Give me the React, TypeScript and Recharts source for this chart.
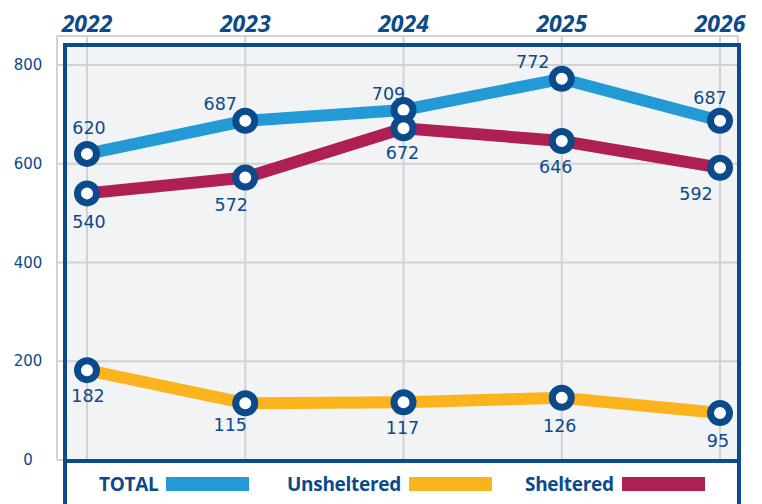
import { LineChart, Line, XAxis, YAxis, CartesianGrid, LabelList } from 'recharts';

const years = ['2022', '2023', '2024', '2025', '2026'];
const total = [620, 687, 709, 772, 687];
const unsheltered = [182, 115, 117, 126, 95];
const sheltered = [540, 572, 672, 646, 592];
const yTicks = [0, 200, 400, 600, 800];

// label nudges (dx, dy) per point
const totalLabelShift = [[2, -26], [-25, -17], [-15, -16], [-29, -17], [-10, -23]];
const unshelteredLabelShift = [[1, 26], [-15, 22], [-1, 26], [-2, 28], [-2, 28]];
const shelteredLabelShift = [[2, 29], [-14, 27], [-1, 25], [-6, 26], [-24, 26]];

const NAVY = '#0b4a8b';
const BLUE = '#239ad6';
const GOLD = '#fbb41d';
const WINE = '#ae1f53';
const GRID = '#d2d2d2';

const data = years.map((year, i) => ({
  year,
  total: total[i],
  unsheltered: unsheltered[i],
  sheltered: sheltered[i],
}));

const makeLabel = (shift: number[][]) => (props: any) => {
  const { x, y, value, index } = props;
  const [dx, dy] = shift[index] || [0, 0];
  return (
    <text
      x={x + dx}
      y={y + dy}
      textAnchor="middle"
      dominantBaseline="central"
      fill={NAVY}
      fontSize={17.5}
      fontFamily="DejaVu Sans"
    >
      {value}
    </text>
  );
};

const YearTick = (props: any) => {
  const { x, y, payload } = props;
  return (
    <text
      x={x}
      y={y}
      textAnchor="middle"
      fill={NAVY}
      fontSize={23}
      fontWeight={700}
      fontStyle="italic"
      fontFamily="Open Sans"
    >
      {payload.value}
    </text>
  );
};

const ValueTick = (props: any) => {
  const { x, y, payload } = props;
  return (
    <text
      x={x}
      y={y}
      textAnchor="middle"
      dominantBaseline="central"
      fill={NAVY}
      fontSize={15}
      fontFamily="DejaVu Sans"
    >
      {payload.value}
    </text>
  );
};

const dotStyle = { r: 9.5, fill: '#ffffff', stroke: NAVY, strokeWidth: 7 };

const legendItems = [
  { name: 'TOTAL', color: BLUE, left: 99 },
  { name: 'Unsheltered', color: GOLD, left: 287 },
  { name: 'Sheltered', color: WINE, left: 525 },
];

export default function App() {
  return (
    <div style={{ position: 'absolute', left: 0, top: 0, width: 762, height: 504, background: '#fff', overflow: 'hidden' }}>
      <div style={{ position: 'absolute', left: 64, top: 44, width: 676, height: 417, background: '#f2f3f5', zIndex: 0 }} />
      <div style={{ position: 'absolute', left: 0, top: 0, zIndex: 1 }}>
        <LineChart width={762} height={504} data={data} margin={{ top: 0, right: 24, bottom: 44, left: 0 }}>
          <CartesianGrid stroke={GRID} strokeWidth={2} />
          <XAxis
            dataKey="year"
            orientation="top"
            height={36}
            axisLine={false}
            tickLine={false}
            tickSize={0}
            tickMargin={4}
            padding={{ left: 30, right: 18 }}
            tick={<YearTick />}
          />
          <YAxis
            width={57}
            domain={[0, 800]}
            ticks={yTicks}
            axisLine={false}
            tickLine={false}
            tickSize={0}
            tickMargin={29}
            padding={{ top: 29 }}
            tick={<ValueTick />}
          />
          <Line dataKey="total" stroke={BLUE} strokeWidth={12} dot={dotStyle} activeDot={false} isAnimationActive={false}>
            <LabelList dataKey="total" content={makeLabel(totalLabelShift)} />
          </Line>
          <Line dataKey="sheltered" stroke={WINE} strokeWidth={12} dot={dotStyle} activeDot={false} isAnimationActive={false}>
            <LabelList dataKey="sheltered" content={makeLabel(shelteredLabelShift)} />
          </Line>
          <Line dataKey="unsheltered" stroke={GOLD} strokeWidth={12} dot={dotStyle} activeDot={false} isAnimationActive={false}>
            <LabelList dataKey="unsheltered" content={makeLabel(unshelteredLabelShift)} />
          </Line>
        </LineChart>
      </div>
      <div
        style={{
          position: 'absolute',
          left: 63,
          top: 43,
          width: 678,
          height: 480,
          boxSizing: 'border-box',
          border: `4px solid ${NAVY}`,
          zIndex: 2,
        }}
      />
      <div style={{ position: 'absolute', left: 63, top: 459, width: 678, height: 4, background: NAVY, zIndex: 2 }} />
      {legendItems.map((item) => (
        <div
          key={item.name}
          style={{
            position: 'absolute',
            left: item.left,
            top: 472,
            height: 24,
            display: 'flex',
            alignItems: 'center',
            gap: 8,
            zIndex: 3,
            fontFamily: 'Open Sans',
            fontWeight: 700,
            fontSize: 19,
            color: NAVY,
            letterSpacing: -0.3,
          }}
        >
          <span>{item.name}</span>
          <span style={{ display: 'inline-block', width: 83, height: 14, background: item.color }} />
        </div>
      ))}
    </div>
  );
}
